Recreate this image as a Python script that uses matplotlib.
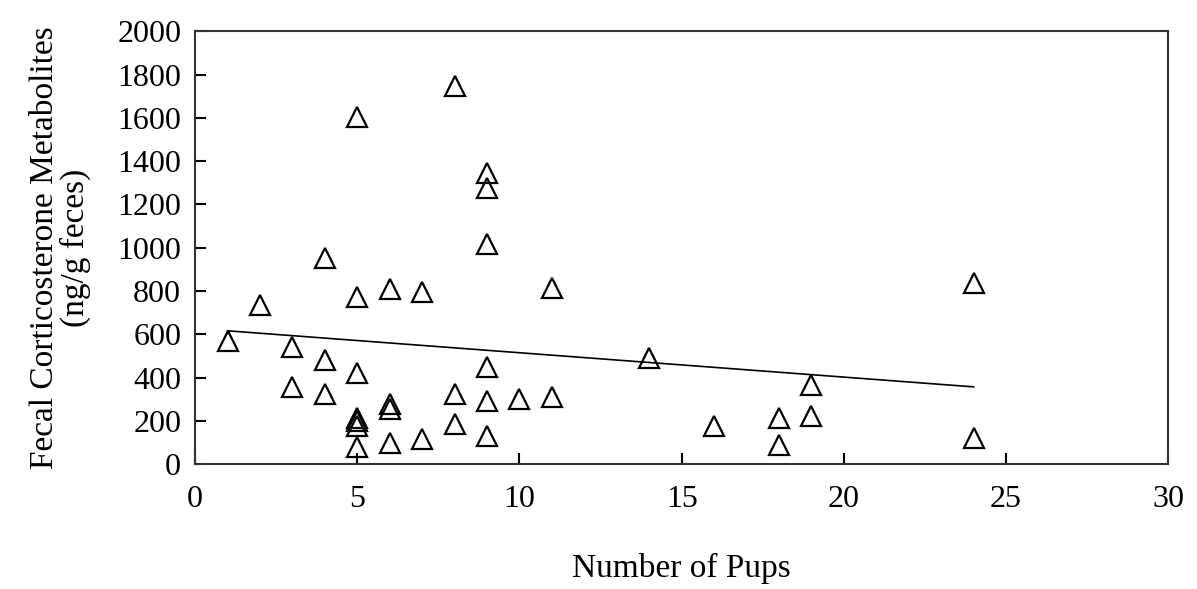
import numpy as np
import matplotlib
matplotlib.use('Agg')
import matplotlib.pyplot as plt

# Number of pups (x) and fecal corticosterone metabolites (y)
pups = [1, 2, 3, 3, 4, 4, 4,
        5, 5, 5, 5, 5, 5, 5,
        6, 6, 6, 6, 7, 7, 8, 8, 8,
        9, 9, 9, 9, 9, 9, 10, 11, 11,
        14, 16, 18, 18, 19, 19, 24, 24]
fcm = [567, 737, 539, 356, 951, 479, 323,
       1604, 771, 423, 212, 197, 177, 81,
       808, 277, 257, 98, 796, 118, 1747, 323, 186,
       1345, 1275, 1017, 448, 291, 131, 300, 816, 311,
       492, 177, 212, 89, 366, 223, 839, 123]

# regression line ends as drawn in the figure
trend_x = [1, 24]
trend_y = [616, 357]

plt.rcParams['font.family'] = ['Liberation Serif', 'DejaVu Serif']

fig = plt.figure(figsize=(11.97, 5.89), dpi=100)
ax = fig.add_axes([0.163, 0.212, 0.813, 0.735])

ax.plot(pups, fcm, linestyle='none', marker='^', markersize=15,
        markerfacecolor='none', markeredgecolor='black', markeredgewidth=1.6)
ax.plot(trend_x, trend_y, color='black', linewidth=1.2)

ax.set_xlim(0, 30)
ax.set_ylim(0, 2000)
ax.set_xticks(np.arange(0, 31, 5))
ax.set_yticks(np.arange(0, 2001, 200))
ax.tick_params(direction='in', length=8, width=1.5, labelsize=23, color='black')
ax.tick_params(axis='x', pad=15)
ax.tick_params(axis='y', pad=10)
for s in ax.spines.values():
    s.set_linewidth(1.5)
    s.set_color('#333333')

ax.set_xlabel('Number of Pups', fontsize=24)
ax.xaxis.set_label_coords(0.5, -0.205)
ax.set_ylabel('Fecal Corticosterone Metabolites\n(ng/g feces)', fontsize=24,
              linespacing=1.0)
ax.yaxis.set_label_coords(-0.107, 0.5)

plt.savefig('out.png', dpi=100)
